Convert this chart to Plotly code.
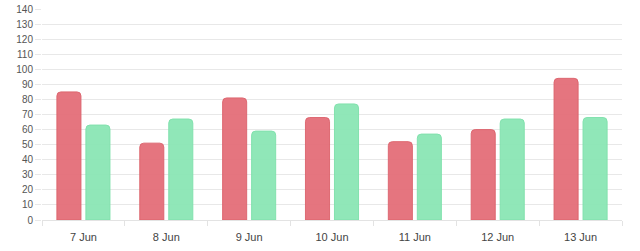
import plotly.graph_objects as go

categories = ["7 Jun", "8 Jun", "9 Jun", "10 Jun", "11 Jun", "12 Jun", "13 Jun"]
series_red = [85, 51, 81, 68, 52, 60, 94]
series_green = [63, 67, 59, 77, 57, 67, 68]
y_ticks = list(range(0, 141, 10))

fig = go.Figure()
fig.add_trace(go.Bar(
    x=categories, y=series_red, name="A",
    marker=dict(color="rgba(228,110,120,0.95)", line=dict(color="rgba(220,98,108,0.9)", width=1),
                cornerradius=4),
))
fig.add_trace(go.Bar(
    x=categories, y=series_green, name="B",
    marker=dict(color="rgba(138,230,180,0.95)", line=dict(color="rgba(128,224,172,0.95)", width=1),
                cornerradius=4),
))

fig.update_layout(
    width=640, height=251,
    margin=dict(l=42, r=18, t=9, b=31, autoexpand=False),
    paper_bgcolor="white", plot_bgcolor="white",
    showlegend=False,
    barmode="group", bargap=0.3, bargroupgap=0.17,
    font=dict(family="Liberation Sans, Arial, sans-serif", color="#666666"),
)
fig.update_xaxes(
    type="category", showgrid=False, showline=True, linecolor="#e3e3e3", linewidth=1,
    ticks="outside", tickson="boundaries", ticklen=5, tickcolor="#e3e3e3",
    tickfont=dict(size=11, color="#444444"), automargin=False, ticklabelstandoff=7,
)
fig.update_yaxes(
    range=[0, 140], tickvals=y_ticks, showgrid=True, gridcolor="#e8e8e8", gridwidth=1,
    zeroline=False, showline=False, automargin=False,
    ticks="outside", ticklen=6, tickcolor="#e8e8e8",
    tickfont=dict(size=10, color="#555555"),
)

fig.write_html("out.html")
